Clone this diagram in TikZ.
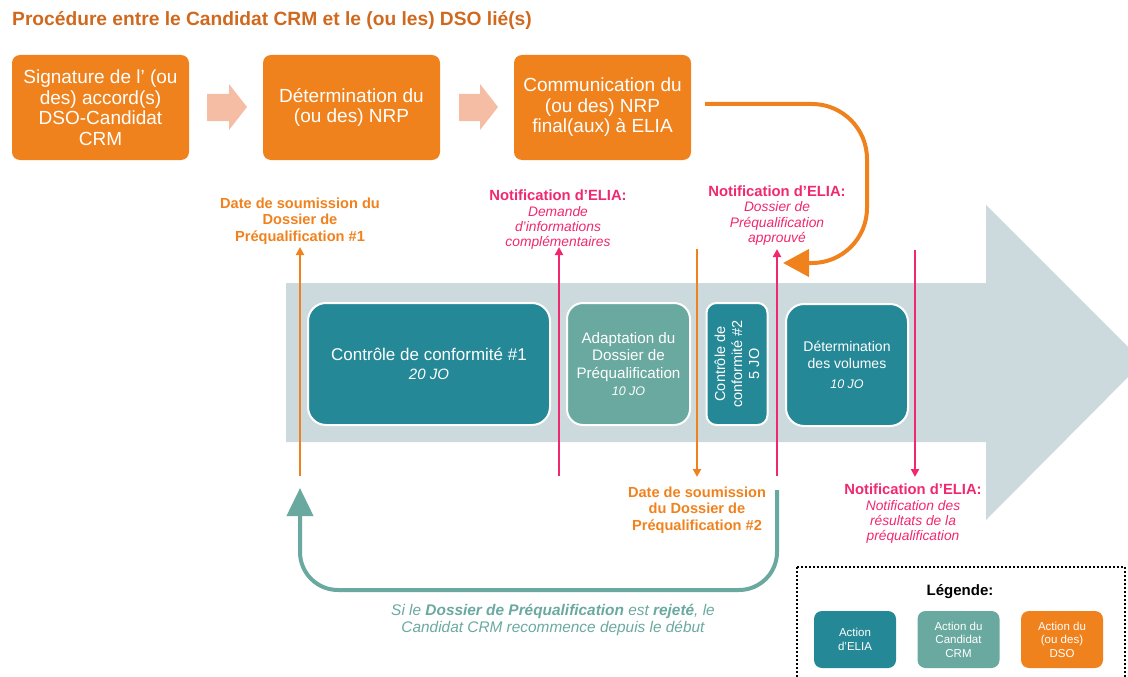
\documentclass[tikz,border=0pt]{standalone}
\usepackage{fontspec}
\setmainfont{Liberation Sans}
\usetikzlibrary{arrows.meta}
\definecolor{dso}{HTML}{F0821E}
\definecolor{titlec}{HTML}{D0691E}
\definecolor{elia}{HTML}{258896}
\definecolor{cand}{HTML}{6AA99F}
\definecolor{band}{HTML}{CCDADD}
\definecolor{pinkc}{HTML}{F0286F}
\definecolor{salmon}{HTML}{F6BDA5}
\begin{document}
\begin{tikzpicture}[x=1pt,y=-1pt,
  topbox/.style={fill=dso, rounded corners=8pt, text=white, align=center, minimum width=177pt, minimum height=105pt, inner sep=0pt, font=\fontsize{19}{20.5}\selectfont},
  innerbox/.style={draw=white, line width=2pt, rounded corners=18pt, text=white, align=center, inner sep=0pt, minimum height=122pt, font=\fontsize{14}{17}\selectfont},
  legbox/.style={rounded corners=8pt, text=white, align=center, inner sep=0pt, minimum width=82pt, minimum height=57pt, font=\fontsize{11.5}{13.5}\selectfont},
  olbl/.style={text=dso, align=center, inner sep=0pt, font=\fontsize{14.6}{16.5}\selectfont\bfseries},
  plbl/.style={text=pinkc, align=center, inner sep=0pt, font=\fontsize{13.8}{15.3}\selectfont},
  oline/.style={draw=dso, line width=2.5pt},
  pline/.style={draw=pinkc, line width=2.5pt},
  tip/.style={-{Triangle[length=8pt,width=8pt]}}
]
\useasboundingbox (0,0) rectangle (1128,677);
\clip (0,0) rectangle (1128,677);

% title
\node[anchor=west, text=titlec, inner sep=0pt, font=\fontsize{19.2}{21}\selectfont\bfseries] (title) at (12,20) {Procédure entre le Candidat CRM et le (ou les) DSO lié(s)};

% top boxes
\node[topbox] (b1) at (100.5,107.5) {Signature de l’ (ou\\des) accord(s)\\DSO-Candidat\\CRM};
\node[topbox] (b2) at (351.5,107.5) {Détermination du\\(ou des) NRP};
\node[topbox] (b3) at (602.5,107.5) {Communication du\\(ou des) NRP\\final(aux) à ELIA};

% salmon arrows
\fill[salmon] (207,94) -- (229,94) -- (229,84) -- (247,107) -- (229,130) -- (229,121) -- (207,121) -- cycle;
\fill[salmon] (459,94) -- (480,94) -- (480,84) -- (498,107) -- (480,130) -- (480,121) -- (459,121) -- cycle;

% big grey arrow
\fill[band] (286,283) -- (986,283) -- (986,205) -- (1143,362) -- (986,520) -- (986,442) -- (286,442) -- cycle;

% inner boxes
\node[innerbox, fill=elia, minimum width=242pt, font=\fontsize{17}{19}\selectfont] (c1) at (429,364) {Contrôle de conformité \#1\\{\fontsize{15}{17}\selectfont\textit{20 JO}}};
\node[innerbox, fill=cand, minimum width=123pt, rounded corners=16pt, font=\fontsize{15.2}{17.5}\selectfont] (c2) at (628.5,364) {Adaptation du\\Dossier de\\Préqualification\\{\fontsize{12.5}{14}\selectfont\textit{10 JO}}};
\node[innerbox, fill=elia, minimum width=61pt, rounded corners=10pt] (c3) at (737,364) {};
\node[rotate=90, text=white, align=center, inner sep=0pt, font=\fontsize{14.5}{17}\selectfont] (c3t) at (c3.center) {Contrôle de\\conformité \#2\\5 JO};
\node[innerbox, fill=elia, minimum width=122pt] (c4) at (847,365) {Détermination\\des volumes\\[3pt]{\fontsize{12.5}{14}\selectfont\textit{10 JO}}};

% vertical markers
\coordinate (v1b) at (300,476); \coordinate (v1t) at (300,247);
\coordinate (v2b) at (559,476); \coordinate (v2t) at (559,247);
\coordinate (v3t) at (697,249); \coordinate (v3b) at (697,477);
\coordinate (v4b) at (777,476); \coordinate (v4t) at (777,249);
\coordinate (v5t) at (915,250); \coordinate (v5b) at (915,477);
\draw[oline, tip] (v1b) -- (v1t);
\draw[pline, tip] (v2b) -- (v2t);
\draw[oline, tip] (v3t) -- (v3b);
\draw[pline, tip] (v4b) -- (v4t);
\draw[pline, tip] (v5t) -- (v5b);

% labels
\node[olbl] (l1) at (300,221) {Date de soumission du\\Dossier de\\Préqualification \#1};
\node[plbl] (l2) at (558,220) {\textbf{\fontsize{14.8}{15.3}\selectfont Notification d’ELIA:}\\\textit{Demande}\\\textit{d’informations}\\\textit{complémentaires}};
\node[plbl] (l3) at (777,215.5) {\textbf{\fontsize{14.8}{15.3}\selectfont Notification d’ELIA:}\\\textit{Dossier de}\\\textit{Préqualification}\\\textit{approuvé}};
\node[olbl] (l4) at (697,510) {Date de soumission\\du Dossier de\\Préqualification \#2};
\node[plbl] (l5) at (913,514) {\textbf{\fontsize{14.8}{15.3}\selectfont Notification d’ELIA:}\\\textit{Notification des}\\\textit{résultats de la}\\\textit{préqualification}};

% orange feedback connector
\coordinate (o1) at (705,104);
\coordinate (o2) at (783,263);
\draw[dso, line width=4pt, rounded corners=55pt, -{Triangle[length=26pt,width=27pt]}] (o1) -- (867,104) -- (867,263) -- (o2);

% teal return connector
\coordinate (r1) at (777,490);
\coordinate (r2) at (300,488);
\draw[cand, line width=4pt, rounded corners=38pt, -{Triangle[length=28pt,width=26pt]}] (r1) -- (777,590) -- (300,590) -- (r2);
\node[text=cand, align=center, inner sep=0pt, font=\fontsize{15.4}{16.5}\selectfont\itshape] (rt) at (553,620) {Si le \textbf{Dossier de Préqualification} est \textbf{rejeté}, le\\Candidat CRM recommence depuis le début};

% legend
\draw[black, line width=2pt, dotted] (797,567) rectangle (1125,700);
\node[inner sep=0pt, font=\fontsize{15}{17}\selectfont\bfseries] (lt) at (960,592) {Légende:};
\node[legbox, fill=elia] (k1) at (855,639.5) {Action\\d’ELIA};
\node[legbox, fill=cand] (k2) at (958.5,639.5) {Action du\\Candidat\\CRM};
\node[legbox, fill=dso] (k3) at (1062,639.5) {Action du\\(ou des)\\DSO};
\end{tikzpicture}
\end{document}
